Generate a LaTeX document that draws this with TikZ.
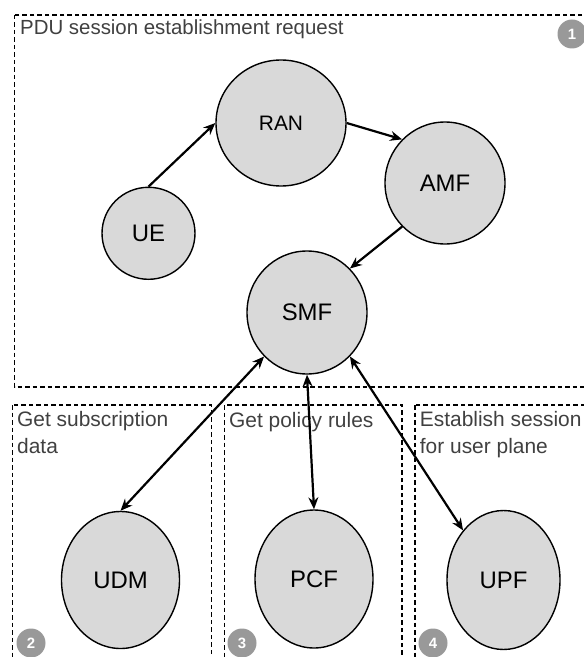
\documentclass[tikz,border=0pt]{standalone}
\usepackage{fontspec}
\setmainfont{Liberation Sans}
\usetikzlibrary{arrows.meta,shapes.geometric}
\definecolor{nodefill}{HTML}{D9D9D9}
\definecolor{labelgray}{HTML}{404040}
\definecolor{badgegray}{HTML}{999999}

\begin{document}
\begin{tikzpicture}[x=1bp,y=-1bp,
  nf/.style={ellipse, draw=black, line width=1.4bp, fill=nodefill, inner sep=0,
    font=\fontsize{24}{28}\selectfont},
  group/.style={draw=black, line width=1.2bp, dash pattern=on 4.5bp off 3bp},
  grouptitle/.style={text=labelgray, inner sep=0, align=left,
    font=\fontsize{21}{27}\selectfont},
  badge/.style={circle, fill=badgegray, minimum size=29bp, inner sep=0,
    text=white, font=\bfseries\fontsize{15}{15}\selectfont},
  flow/.style={line width=2.2bp, -{Stealth[length=12bp,width=10bp,inset=4bp]}},
  dflow/.style={line width=2.2bp, {Stealth[length=12bp,width=10bp,inset=4bp]}-{Stealth[length=12bp,width=10bp,inset=4bp]}}
]
\useasboundingbox (0,0) rectangle (584,657);
\clip (0,0) rectangle (584,657);
\fill[white] (0,0) rectangle (584,657);

% group frames
\draw[group] (14.5,15) rectangle (590,387);
\draw[group] (12.3,405) rectangle (211.5,670);
\draw[group] (224.6,405) rectangle (402,670);
\draw[group] (415,405) rectangle (610,670);

% group titles
\node[grouptitle, anchor=base west, font=\fontsize{20.5}{27}\selectfont] (t1) at (20,35) {PDU session establishment request};
\node[grouptitle, anchor=north west] (t2) at (17,411.5) {Get subscription\\data};
\node[grouptitle, anchor=base west] (t3) at (229,427.3) {Get policy rules};
\node[grouptitle, anchor=north west] (t4) at (419.7,411.5) {Establish session\\for user plane};

% step badges
\node[badge] (b1) at (572,34) {1};
\node[badge] (b2) at (31,643) {2};
\node[badge] (b3) at (242,643) {3};
\node[badge] (b4) at (433,643) {4};

% network functions
\node[nf, minimum width=93bp, minimum height=92bp] (UE) at (148.5,233.3) {UE};
\node[nf, minimum width=130bp, minimum height=126bp, font=\fontsize{21}{25}\selectfont] (RAN) at (281,123) {RAN};
\node[nf, minimum width=120bp, minimum height=122bp] (AMF) at (445,183) {AMF};
\node[nf, minimum width=120bp, minimum height=123bp] (SMF) at (307,312.5) {SMF};
\node[nf, minimum width=118bp, minimum height=137bp] (UDM) at (120.5,580) {UDM};
\node[nf, minimum width=118bp, minimum height=138bp] (PCF) at (314,579) {PCF};
\node[nf, minimum width=113bp, minimum height=139bp] (UPF) at (503.5,580) {UPF};

% message flows
\draw[flow] (UE.north) -- (RAN.west);
\draw[flow] (RAN.east) -- (AMF.north west);
\draw[flow] (AMF.south west) -- (SMF.north east);
\draw[dflow] (SMF.south west) -- (UDM.north);
\draw[dflow] (SMF.south) -- (PCF.north);
\draw[dflow] (SMF.south east) -- (UPF.north west);
\end{tikzpicture}
\end{document}
